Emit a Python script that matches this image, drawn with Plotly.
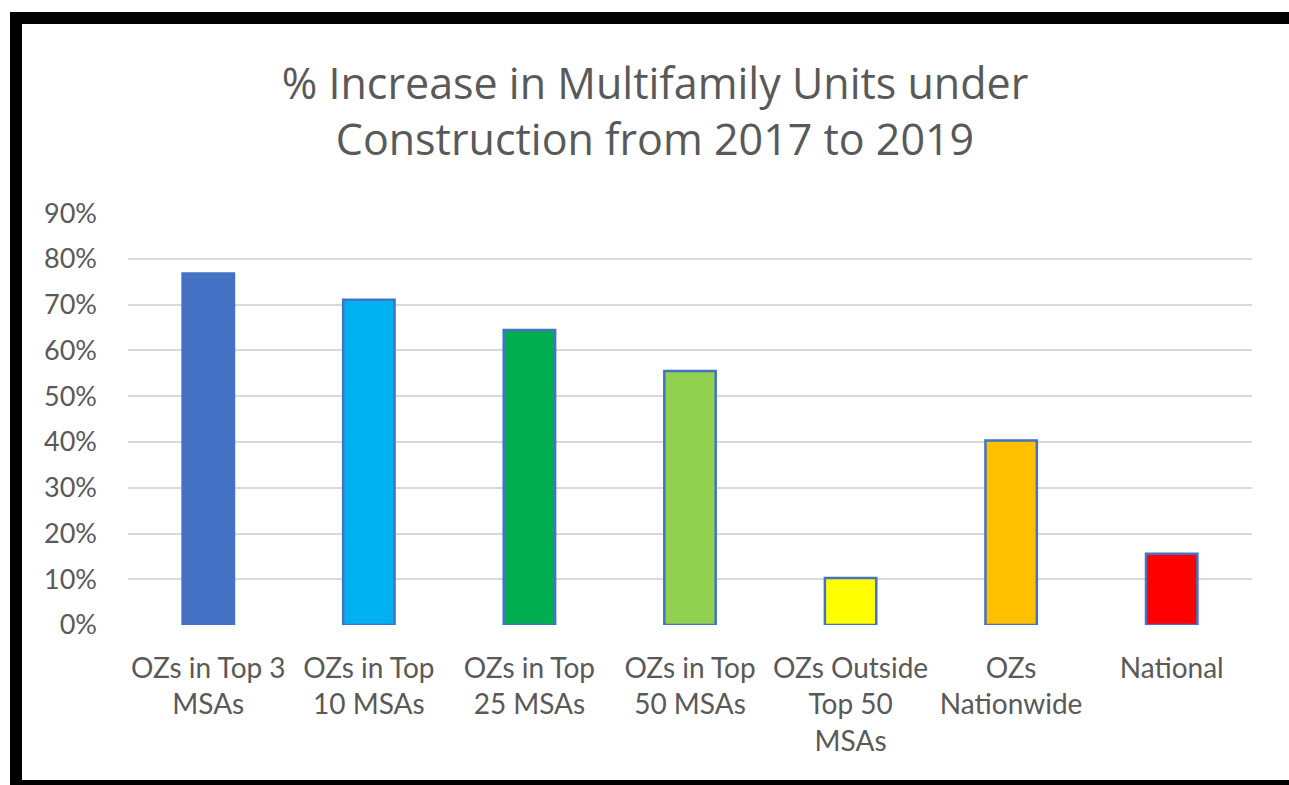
import plotly.graph_objects as go

categories = ["OZs in Top 3<br>MSAs", "OZs in Top<br>10 MSAs", "OZs in Top<br>25 MSAs",
              "OZs in Top<br>50 MSAs", "OZs Outside<br>Top 50<br>MSAs", "OZs<br>Nationwide", "National"]
values = [0.768, 0.711, 0.645, 0.555, 0.103, 0.403, 0.156]
colors = ["#4472C4", "#00B0F0", "#00B050", "#92D050", "#FFFF00", "#FFC000", "#FF0000"]
title_text = "% Increase in Multifamily Units under<br>Construction from 2017 to 2019"

W, H = 1289, 785
L, R, T, B = 128, 1252, 213, 625

def px_x(p):
    return (p - L) / (R - L)

def px_y(p):
    return (B - p) / (B - T)

fig = go.Figure(go.Bar(
    x=categories, y=values,
    marker=dict(color=colors, line=dict(color="#4472C4", width=2.5)),
    width=0.32,
))

font = "Lato, 'Open Sans', sans-serif"
fig.update_layout(
    width=W, height=H, autosize=False,
    margin=dict(l=L, r=W - R, t=T, b=H - B, pad=0),
    paper_bgcolor="white", plot_bgcolor="white",
    showlegend=False,
    font=dict(family=font, color="#595959", size=27),
    title=dict(text=title_text, x=655 / W, xanchor="center", xref="container",
               y=1 - 99 / H, yanchor="top", yref="container",
               font=dict(family="'Open Sans', Lato, sans-serif", size=43, color="#595959")),
    shapes=[
        dict(type="rect", xref="paper", yref="paper", layer="below",
             x0=px_x(10), x1=px_x(1310), y0=px_y(12), y1=px_y(800),
             fillcolor="black", line=dict(width=0)),
        dict(type="rect", xref="paper", yref="paper", layer="below",
             x0=px_x(22), x1=px_x(1310), y0=px_y(24), y1=px_y(780),
             fillcolor="white", line=dict(width=0)),
    ],
)
fig.update_yaxes(range=[0, 0.9005], dtick=0.1, tick0=0, tickformat=".0%", showgrid=True,
                 gridcolor="#D9D9D9", gridwidth=2, zeroline=False, showline=False,
                 ticklabelstandoff=30, tickfont=dict(size=27, color="#595959"))
fig.update_xaxes(showline=False, showgrid=False, ticklabelstandoff=24,
                 tickfont=dict(size=28, color="#595959"), tickangle=0)

fig.write_html("out.html", config={"displayModeBar": False},
               post_script="document.body.style.margin='0';document.body.style.overflow='hidden';")
